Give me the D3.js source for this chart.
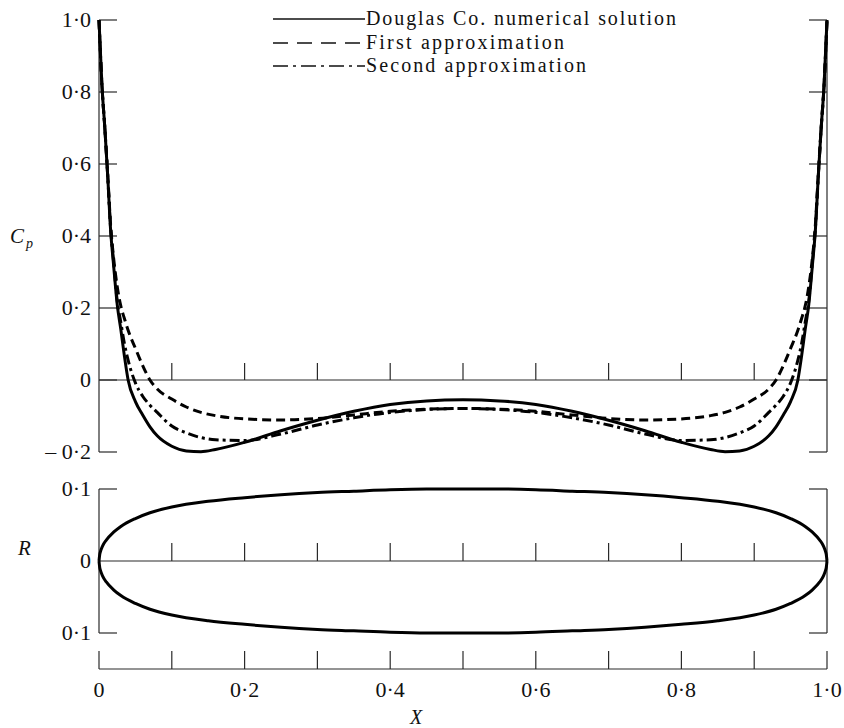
<!DOCTYPE html>
<html>
<head>
<meta charset="utf-8">
<script src="https://cdn.jsdelivr.net/npm/d3@7"></script>
<style>
  html, body { margin: 0; padding: 0; background: #fff; }
</style>
</head>
<body>
<svg id="chart" width="844" height="728"></svg>
<script>
// ---------- data ----------
const xCp = [0, 0.004, 0.008, 0.012, 0.016, 0.02, 0.025, 0.03, 0.035, 0.04, 0.05, 0.06, 0.07, 0.08, 0.1, 0.12, 0.14, 0.16, 0.2, 0.25, 0.3, 0.35, 0.4, 0.45, 0.5,
             0.55, 0.6, 0.65, 0.7, 0.75, 0.8, 0.84, 0.86, 0.88, 0.9, 0.92, 0.93, 0.94, 0.95, 0.96, 0.965, 0.97, 0.975, 0.98, 0.984, 0.988, 0.992, 0.996, 1.0];

const cpDouglas = [1.0, 0.82, 0.70, 0.565, 0.415, 0.32, 0.21, 0.14, 0.065, 0.0, -0.06, -0.097, -0.13, -0.155, -0.184, -0.197, -0.199, -0.193, -0.173, -0.141, -0.112, -0.087, -0.068, -0.058, -0.055,
                   -0.058, -0.068, -0.087, -0.112, -0.141, -0.173, -0.193, -0.199, -0.197, -0.184, -0.155, -0.13, -0.097, -0.06, 0.0, 0.065, 0.14, 0.21, 0.32, 0.415, 0.565, 0.70, 0.82, 1.0];

const cpFirst = [1.0, 0.82, 0.70, 0.57, 0.43, 0.34, 0.26, 0.205, 0.17, 0.138, 0.088, 0.04, 0.0, -0.025, -0.053, -0.075, -0.09, -0.099, -0.108, -0.111, -0.107, -0.097, -0.087, -0.081, -0.079,
                 -0.081, -0.087, -0.097, -0.107, -0.111, -0.108, -0.099, -0.09, -0.075, -0.053, -0.025, 0.0, 0.04, 0.088, 0.138, 0.17, 0.205, 0.26, 0.34, 0.43, 0.57, 0.70, 0.82, 1.0];

const cpSecond = [1.0, 0.82, 0.70, 0.565, 0.42, 0.33, 0.22, 0.16, 0.10, 0.055, -0.008, -0.045, -0.07, -0.09, -0.128, -0.147, -0.16, -0.166, -0.168, -0.150, -0.125, -0.105, -0.09, -0.082, -0.079,
                  -0.082, -0.09, -0.105, -0.125, -0.150, -0.168, -0.166, -0.16, -0.147, -0.128, -0.09, -0.07, -0.045, -0.008, 0.055, 0.10, 0.16, 0.22, 0.33, 0.42, 0.565, 0.70, 0.82, 1.0];

const xR = [0, 0.001, 0.002, 0.005, 0.01, 0.02, 0.03, 0.05, 0.07, 0.1, 0.15, 0.2, 0.25, 0.3, 0.35, 0.4, 0.45, 0.5,
            0.55, 0.6, 0.65, 0.7, 0.75, 0.8, 0.85, 0.9, 0.93, 0.95, 0.97, 0.98, 0.99, 0.995, 0.998, 0.999, 1.0];
const rUpper = [0, 0.009, 0.013, 0.021, 0.029, 0.040, 0.048, 0.059, 0.067, 0.075, 0.083, 0.088, 0.092, 0.095, 0.097, 0.099, 0.100, 0.100,
                0.100, 0.099, 0.097, 0.095, 0.092, 0.088, 0.083, 0.075, 0.067, 0.059, 0.048, 0.040, 0.029, 0.021, 0.013, 0.009, 0];

const xTickValues = [0, 0.1, 0.2, 0.3, 0.4, 0.5, 0.6, 0.7, 0.8, 0.9, 1.0];
const xTickLabels = ["0", "", "0·2", "", "0·4", "", "0·6", "", "0·8", "", "1·0"];
const cpTickValues = [1.0, 0.8, 0.6, 0.4, 0.2, 0, -0.2];
const cpTickLabels = ["1·0", "0·8", "0·6", "0·4", "0·2", "0", "– 0·2"];
const rTickValues = [0.1, 0, -0.1];
const rTickLabels = ["0·1", "0", "0·1"];

const legendLabels = ["Douglas Co. numerical solution", "First approximation", "Second approximation"];

// ---------- pick an installed serif font ----------
function pickFont(cands) {
  const c = document.createElement("canvas").getContext("2d");
  const s = "Douglas Co. numerical solution 0·2 RXC";
  const bases = ["monospace", "sans-serif"];
  for (const f of cands) {
    let ok = false;
    for (const b of bases) {
      c.font = "40px " + b; const w0 = c.measureText(s).width;
      c.font = "40px '" + f + "', " + b; const w1 = c.measureText(s).width;
      if (Math.abs(w1 - w0) > 0.5) ok = true;
    }
    if (ok) return "'" + f + "', serif";
  }
  return "serif";
}
const FONT = pickFont(["Liberation Serif", "DejaVu Serif", "Tinos", "Times New Roman", "Nimbus Roman", "FreeSerif", "Noto Serif"]);

// ---------- scales ----------
const svg = d3.select("#chart");
const x = d3.scaleLinear().domain([0, 1]).range([99, 827]);
const yCp = d3.scaleLinear().domain([-0.2, 1.0]).range([452, 20]);
const yR = d3.scaleLinear().domain([-0.1, 0.1]).range([633, 489]);
const xAxisY = 669;
const tickLen = 18;

const axisColor = "#2a2a2a";
const axisW = 1.2;

function line(g, x1, y1, x2, y2, w) {
  g.append("line").attr("x1", x1).attr("y1", y1).attr("x2", x2).attr("y2", y2)
    .attr("stroke", axisColor).attr("stroke-width", w || axisW);
}
function txt(g) { return g.append("text").style("font-family", FONT).attr("fill", "#111"); }

const gAx = svg.append("g");

// top panel frame
line(gAx, x(0), yCp(1.0), x(0), yCp(-0.2));
line(gAx, x(1), yCp(1.0), x(1), yCp(-0.2));
cpTickValues.forEach(v => {
  line(gAx, x(0), yCp(v), x(0) + tickLen, yCp(v));
  line(gAx, x(1), yCp(v), x(1) - tickLen, yCp(v));
});
line(gAx, x(0), yCp(0), x(1), yCp(0));
xTickValues.slice(1, -1).forEach(v => line(gAx, x(v), yCp(0), x(v), yCp(0) - 17));

cpTickValues.forEach((d, i) => {
  txt(gAx).attr("x", 91).attr("y", yCp(d)).attr("dy", "0.34em")
    .attr("text-anchor", "end").attr("font-size", 22).text(cpTickLabels[i]);
});

// R panel frame
line(gAx, x(0), yR(0.1), x(0), yR(-0.1));
line(gAx, x(1), yR(0.1), x(1), yR(-0.1));
rTickValues.filter(v => v !== 0).forEach(v => {
  line(gAx, x(0), yR(v), x(0) + tickLen, yR(v));
  line(gAx, x(1), yR(v), x(1) - tickLen, yR(v));
});
line(gAx, x(0), yR(0), x(1), yR(0));
xTickValues.slice(1, -1).forEach(v => line(gAx, x(v), yR(0), x(v), yR(0) - 18));

rTickValues.forEach((d, i) => {
  txt(gAx).attr("x", 91).attr("y", yR(d)).attr("dy", "0.34em")
    .attr("text-anchor", "end").attr("font-size", 22).text(rTickLabels[i]);
});

// bottom x axis
line(gAx, x(0), xAxisY, x(1), xAxisY);
xTickValues.forEach(v => line(gAx, x(v), xAxisY, x(v), xAxisY - tickLen));
xTickValues.forEach((d, i) => {
  txt(gAx).attr("x", x(d)).attr("y", 697).attr("text-anchor", "middle").attr("font-size", 22).text(xTickLabels[i]);
});

// axis titles
txt(svg).attr("x", 416).attr("y", 724).attr("text-anchor", "middle")
  .attr("font-size", 20).attr("font-style", "italic").text("X");
const cpT = txt(svg).attr("x", 10).attr("y", 243).attr("font-size", 21).attr("font-style", "italic");
cpT.append("tspan").text("C");
cpT.append("tspan").attr("dy", 5).attr("dx", 2).attr("font-size", 14).text("p");
txt(svg).attr("x", 18).attr("y", 555).attr("font-size", 21).attr("font-style", "italic").text("R");

// ---------- curves ----------
const lineCp = (vals) => d3.line().x((d, i) => x(xCp[i])).y((d) => yCp(d)).curve(d3.curveMonotoneX)(vals);
const gC = svg.append("g").attr("fill", "none").attr("stroke", "#000").attr("stroke-linecap", "butt");
gC.append("path").attr("d", lineCp(cpFirst)).attr("stroke-width", 3).attr("stroke-dasharray", "9,5");
gC.append("path").attr("d", lineCp(cpSecond)).attr("stroke-width", 3).attr("stroke-dasharray", "10,4,3,4");
gC.append("path").attr("d", lineCp(cpDouglas)).attr("stroke-width", 3);

const lineR = (sign) => d3.line().x((d, i) => x(xR[i])).y(d => yR(sign * d)).curve(d3.curveMonotoneX)(rUpper);
gC.append("path").attr("d", lineR(1)).attr("stroke-width", 3);
gC.append("path").attr("d", lineR(-1)).attr("stroke-width", 3);

// ---------- legend ----------
const legY = [19, 43, 66];
const legDash = [null, "15,9", "15,5,3,5"];
const legWidths = [310, 198, 220];
const gL = svg.append("g");
legendLabels.forEach((t, i) => {
  const l = gL.append("line").attr("x1", 273).attr("x2", 365).attr("y1", legY[i]).attr("y2", legY[i])
    .attr("stroke", "#111").attr("stroke-width", 1.3);
  if (legDash[i]) l.attr("stroke-dasharray", legDash[i]);
  txt(gL).attr("x", 366).attr("y", legY[i] + 6).attr("font-size", 20)
    .attr("textLength", legWidths[i]).attr("lengthAdjust", "spacing").text(t);
});
</script>
</body>
</html>
